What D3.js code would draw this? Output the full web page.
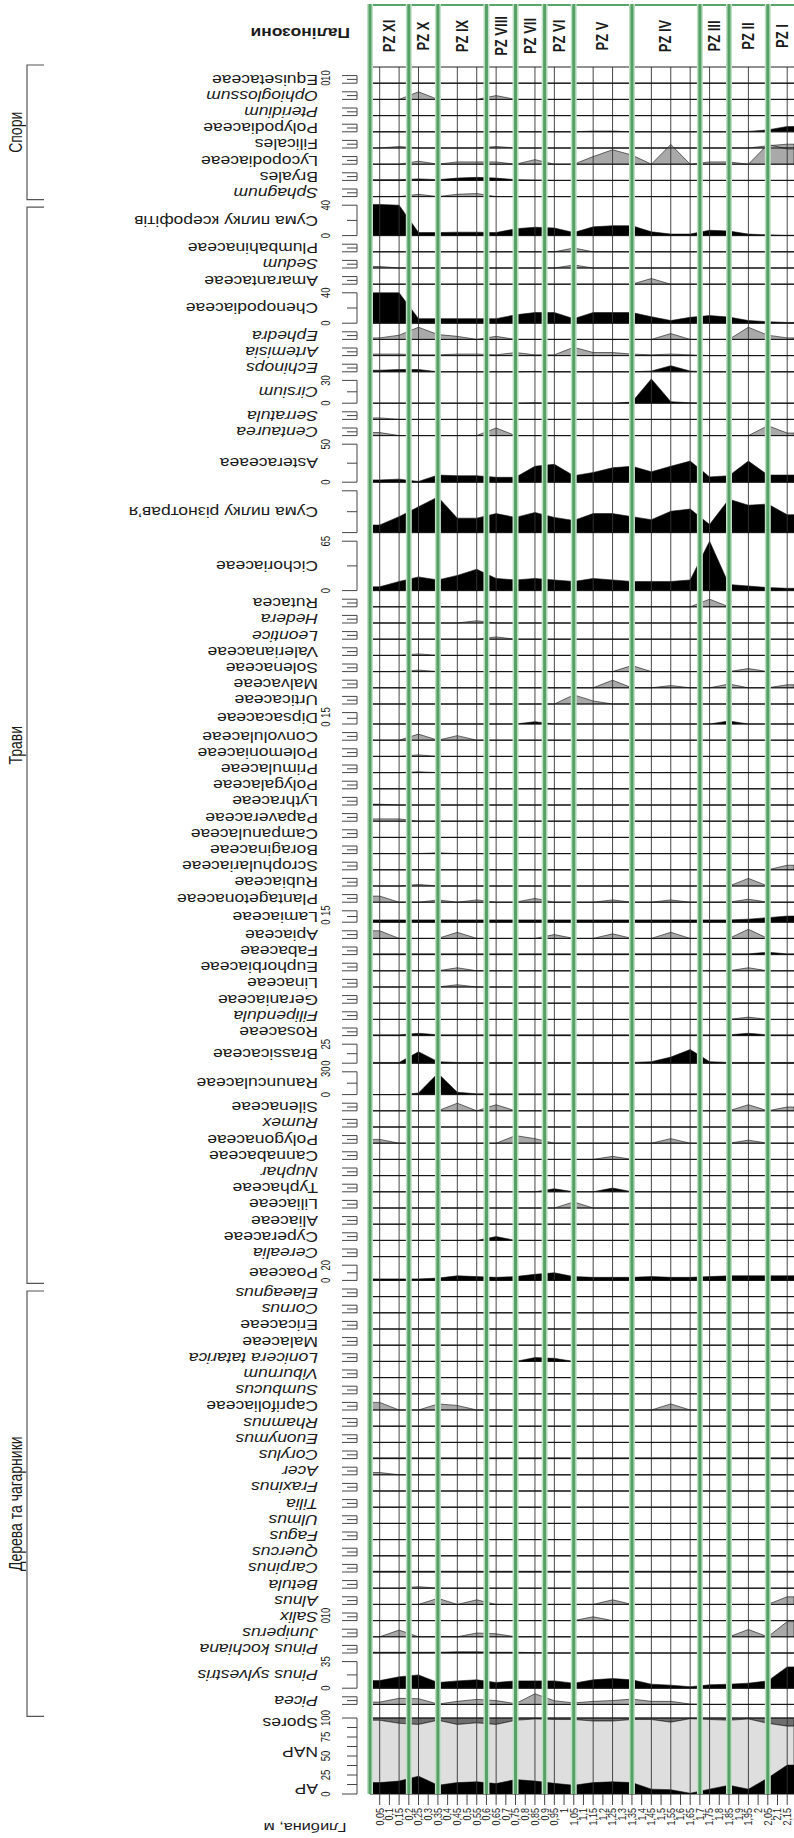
<!DOCTYPE html>
<html><head><meta charset="utf-8">
<script src="https://cdn.jsdelivr.net/npm/d3@7"></script>
<style>
body{margin:0;background:#fff}
svg{display:block}
text{font-family:"Liberation Sans",Arial,sans-serif;fill:#1a1a1a}
</style></head>
<body><svg id="c" width="794" height="1838"></svg>
<script>
// ---------------- DATA ----------------
const depths = [0.05,0.15,0.25,0.35,0.45,0.55,0.65,0.75,0.85,0.95,1.05,1.15,1.25,1.35,1.45,1.55,1.65,1.75,1.85,1.95,2.05,2.15];
const depthTicks = [0.05,0.1,0.15,0.2,0.25,0.3,0.35,0.4,0.45,0.5,0.55,0.6,0.65,0.7,0.75,0.8,0.85,0.9,0.95,1,1.05,1.1,1.15,1.2,1.25,1.3,1.35,1.4,1.45,1.5,1.55,1.6,1.65,1.7,1.75,1.8,1.85,1.9,1.95,2,2.05,2.1,2.15];
const zoneBreaks = [0,0.2,0.35,0.6,0.75,0.9,1.05,1.35,1.7,1.85,2.05,2.2];
const zoneNames = ["PZ XI","PZ X","PZ IX","PZ VIII","PZ VII","PZ VI","PZ V","PZ IV","PZ III","PZ II","PZ I"];
const groupNames = ["Спори","Трави","Дерева та чагарники"];

const sporeTaxa = ["Equisetaceae","Ophioglossum","Pteridium","Polypodiaceae","Filicales","Lycopodiaceae","Bryales","Sphagnum"];
const sporeRanges = [10,10,10,10,10,10,10,10];
const sporeValues = [
 [0,0,0,0,0,0,0,0,0,0,0,0,0,0,0,0,0,0,0,0,0,0],
 [0,0,10,0,0,0,5,0,0,0,0,0,0,0,0,0,0,0,0,0,0,0],
 [0,0,0,0,0,0,0,0,0,0,0,0,0,0,0,0,0,0,0,0,0,0],
 [0,0,0,0,0,0,0,0,0,0,0,1,1,0,0,0,0,0,0,0.5,2.5,7],
 [0,2,0,0,0,0,2,0,0,0,0,0,0,0,0,0,0,0,0,0,3,5],
 [0,0,4,0,3,3,3,0,6,0,0,10,19,12,0,26,0,3,3,0,26,20],
 [1,1,2,1,3,4,3,1,0.5,0,0,0,0,0,0,0,0,0,0,0,0,0],
 [0,0,3,0,3,4,0,0,0,0,0,0,0,0,0,0,0,0,0,0,0,0]
];

const herbTaxa = ["Сума пилку ксерофітів","Plumbahinaceae","Sedum","Amarantaceae","Chenopodiaceae","Ephedra","Artemisia","Echinops","Cirsium","Serratula","Centaurea","Asteraceaea","Сума пилку різнотрав’я","Cichoriaceae","Rutacea","Hedera","Leontice","Valerianaceae","Solenaceae","Malvaceae","Urticaceae","Dipsacaceae","Convolulaceae","Polemoniaceae","Primulaceae","Polygalaceae","Lythraceae","Papaveraceae","Campanulaceae","Boraginaceae","Scrophulariaceae","Rubiaceae","Plantagetonaceae","Lamiaceae","Apiaceae","Fabaceae","Euphorbiaceae","Linaceae","Geraniaceae","Filipendula","Rosaceae","Brassicaceae","Ranunculaceae","Silenaceae","Rumex","Polygonaceae","Cannabaceae","Nuphar","Typhaceae","Liliaceae","Aliaceae","Cyperaceae","Cerealia","Poaceae"];
const herbRanges = [40,10,10,10,40,10,10,10,30,10,10,50,55,65,
 10,10,10,10,10,10,10,15,10,10,10,10,10,10,10,10,10,10,10,15,10,10,10,10,10,10,10,
 25,30,10,10,10,10,10,10,10,10,10,10,20];
const herbValues = [
 [41,40,4,4,4.5,4.5,4,9,11,10,4,11.5,13,13,5,2,2,7,6,2,1,0.5],
 [0,0,0,0,0,0,0,0,0,0,5,0,0,0,0,0,0,0,0,0,0,0],
 [2,0,0,0,0,0,0,0,0,0,4,0,0,0,0,0,0,0,0,0,0,0],
 [0,0,0,0,0,0,0,0,0,0,0,0,0,0,7.5,0,0,0,0,0,0,0],
 [40,40,6,6,6,6,6,11,14,14,6,14,14,14,8.5,3.5,7.7,10,8,3.5,2,1],
 [2,5.5,16,6.4,4,0,4,0,0,0,0,0,0,0,0,7.7,0,0,0,16,5.5,2],
 [2,2,1,1,2,2,1,4,1,1,11,4,4,2,1,2,1,0,0,0,0,0],
 [2,3,3,0,0,0,0,0,0.5,0,0,0,0,0,1,8,1,0,0,0,0,0],
 [0,0,0,0,0,0,0,0,0.5,0,0,0,0,1.5,32,2,0.5,0,0,0,0,0],
 [2,0,0,0,0,0,0,0,0,0,0,0,0,0,0,0,0,0,0,0,0,0],
 [4,0,0,0,0,0,10,0,0,0,0,0,0,0,0,0,0,0,0,0,13,3.4],
 [3,4,1,9.4,8.5,8.5,6.4,6.4,21,23.5,8.5,12.8,19,21,13.7,21,27.8,7,8.5,27.8,9.4,9.4],
 [10,21,34,47,19,19,25,20,26.5,20,16,25,25,21,17,28,31,10.7,44,36,37.6,23.5],
 [5,12,18,14,20,28,16,14,16,14,12,16,14,12,12,12,14,65,8,6,4,3],
 [0,0,0,0,0,0,0,0,0,0,0,0,0,0,0,0,0,10,0,0,0,0],
 [0,0,0,0,0,3,0,0,0,0,0,0,0,0,0,0,0,0,0,0,0,0],
 [0,0,0,0,0,0,3,0,0,0,0,0,0,0,0,0,0,0,0,0,0,0],
 [0,0,2,0,0,0,0,0,0,0,0,0,0,0,0,0,0,0,0,0,0,0],
 [0,0,2,0,0,0,0,0,0,0,0,0,0,8,0,0,0,0,0,4,0,0],
 [0,0,0,0,0,0,0,0,0,0,0,0,10,0,0,3,0,0,5,0,0,4],
 [0,0,0,0,0,0,0,0,0,0,12,4,0,0,0,0,0,0,0,0,0,0],
 [0,0,0,0,0,0,0,0,3,0,0,0,0,0,0,0,0,0,4,0,0,0],
 [0,0,8,0,6,0,0,0,0,0,0,0,0,0,0,0,0,0,0,0,0,0],
 [0,0,2,0,0,0,0,0,0,0,0,0,0,0,0,0,0,0,0,0,0,0],
 [0,0,1,0,0,0,0,0,0,0,0,0,0,0,0,0,0,0,0,0,0,0],
 [0,0,0,0,0,0,0,0,0,0,0,0,0,0,0,0,0,0,0,0,0,0],
 [1,0,0,0,0,0,0,0,0,0,0,0,0,0,0,0,0,0,0,0,0,0],
 [3,3,0,0,0,0,0,0,0,0,0,0,0,0,0,0,0,0,0,0,0,0],
 [0,0,0,0,0,0,0,0,0,0,0,0,0,0,0,0,0,0,0,0,0,0],
 [0,0,0,1,0,0,0,0,0,0,0,0,0,0,0,0,0,0,0,0,0,0],
 [0,0,0,0,0,0,0,0,0,0,0,0,0,0,0,0,0,0,0,0,0,6],
 [0,0,2,0,0,0,0,0,0,0,0,0,0,0,0,0,0,0,0,10,0,0],
 [8,0,0,3,0,3,0,0,5,0,0,0,3,0,0,3,0,0,0,4,0,0],
 [3,3,3,3,3,3,3,3,3,3,3,3,3,3,3,3,3,3,3,4,6,8],
 [10,0,0,0,8,0,0,0,0,5,0,0,6,0,0,8,0,0,0,12,0,0],
 [1,1,1,1,1,1,1,1,1,1,1,1,1,1,1,1,1,1,1,1,3,1],
 [0,0,0,0,4,0,0,0,0,0,0,0,0,0,0,0,0,0,0,4,0,0],
 [0,0,0,0,3,0,0,0,0,0,0,0,0,0,0,0,0,0,0,0,0,0],
 [0,0,0,0,0,0,0,0,0,0,0,0,0,0,0,0,0,0,0,0,0,0],
 [0,0,0,0,0,0,0,0,0,0,0,0,0,0,0,0,0,0,0,3,0,0],
 [1,1,3,1,1,1,1,1,1,1,1,1,1,1,1,1,1,1,1,3,1,1],
 [1,1,15,2,1,1,1,1,1,1,1,1,1,1,2,8,18,2,1,1,1,1],
 [0,0,2,28,3,1,1,1,1,1,1,1,1,1,1,1,1,1,1,1,1,1],
 [0,0,0,0,10,0,8,0,0,0,0,0,0,0,0,0,0,0,0,8,0,5],
 [0,0,0,0,0,0,0,0,0,0,0,0,0,0,0,0,0,0,0,0,0,0],
 [5,0,0,0,0,0,0,10,6,0,0,0,0,0,0,6,0,0,0,4,0,0],
 [0,0,0,0,0,0,0,0,0,0,0,0,4,0,0,0,0,0,0,0,0,0],
 [0,0,0,0,0,0,0,0,0,0,0,0,0,0,0,0,0,0,0,0,0,0],
 [0,0,0,0,0,0,0,0,0,4,0,0,5,0,0,0,0,0,0,0,0,0],
 [0,0,0,0,0,0,0,0,0,0,8,0,0,0,0,0,0,0,0,0,0,0],
 [0,0,0,0,0,0,0,0,0,0,0,0,0,0,0,0,0,0,0,0,0,0],
 [0,0,0,0,0,0,5,0,0,0,0,0,0,0,0,0,0,0,0,0,0,0],
 [0,0,0,0,0,0,0,0,0,0,0,0,0,0,0,0,0,0,0,0,0,0],
 [2,2,2,3,6,5,4,5,8,10,5,4,4,4,5,4,4,5,6,6,6,6]
];

const treeTaxa = ["Elaeagnus","Cornus","Ericaceae","Malaceae","Lonicera tatarica","Viburnum","Sumbucus","Caprifoliaceae","Rhamnus","Euonymus","Corylus","Acer","Fraxinus","Tilia","Ulmus","Fagus","Quercus","Carpinus","Betula","Alnus","Salix","Juniperus","Pinus kochiana","Pinus sylvestris","Picea"];
const treeRanges = [10,10,10,10,10,10,10,10,10,10,10,10,10,10,10,10,10,10,10,10,10,10,10,35,10];
const treeValues = [
 [0,0,0,0,0,0,0,0,0,0,0,0,0,0,0,0,0,0,0,0,0,0],
 [0,0,0,0,0,0,0,0,0,0,0,0,0,0,0,0,0,0,0,0,0,0],
 [0,0,0,0,0,0,0,0,0,0,0,0,0,0,0,0,0,0,0,0,0,0],
 [0,0,0,0,0,0,0,0,0,0,0,0,0,0,0,0,0,0,0,0,0,0],
 [0,0,0,0,0,0,0,0,5,4,0,0,0,0,0,0,0,0,0,0,0,0],
 [0,0,0,0,0,0,0,0,0,0,0,0,0,0,0,0,0,0,0,0,0,0],
 [0,0,0,0,0,0,0,0,0,0,0,0,0,0,0,0,0,0,0,0,0,0],
 [10,0,0,8,6,0,0,0,0,0,0,0,0,0,0,8,0,0,0,0,0,0],
 [0,0,0,0,0,0,0,0,0,0,0,0,0,0,0,0,0,0,0,0,0,0],
 [0,0,0,0,0,0,0,0,0,0,0,0,0,0,0,0,0,0,0,0,0,0],
 [1,1,1,1,1,1,1,1,1,1,1,1,1,1,1,1,1,1,1,1,1,1],
 [3,0,0,0,0,0,0,0,0,0,0,0,0,0,0,0,0,0,0,0,0,0],
 [0,0,0,0,0,0,0,0,0,0,0,0,0,0,0,0,0,0,0,0,0,0],
 [0,0,0,0,0,0,0,0,0,0,0,0,0,0,0,0,0,0,0,0,0,0],
 [0,0,0,0,0,0,0,0,0,0,0,0,0,0,0,0,0,0,0,0,0,0],
 [0,0,0,0,0,0,0,0,0,0,0,0,0,0,0,0,0,0,0,0,0,0],
 [0,0,0,0,0,0,0,0,0,0,0,0,0,0,0,0,0,0,0,0,0,0],
 [1,1,1,1,1,1,1,1,1,1,1,1,1,1,1,1,1,1,1,1,1,1],
 [0,0,2,0,0,0,0,0,0,0,0,0,0,0,0,0,0,0,0,0,0,0],
 [0,0,0,8,0,6,0,0,0,0,0,0,6,0,0,0,0,0,0,0,0,10],
 [0,0,0,0,0,0,0,0,0,0,0,5,0,0,0,0,0,0,0,0,0,0],
 [0,8.8,0,0,0,5,4,0,0,0,0,0,0,0,0,0,0,0,0,9.6,0,20],
 [1,1,1,1,1.5,1.5,1,1,0.5,0,0,0,0,0,0,0,0,0,0,0,0,0],
 [10,15,17.5,7.5,9.6,11,7.5,9.6,9.6,9.6,6.6,11,12.7,11,5.3,4,2,4.4,5.3,6.6,9.6,28],
 [3,8,7.5,0.5,4,6.6,5,1,14,4.8,2,4,5,7,4,4,0.5,0,0,0,0,0]
];

const apValues     = [15,17,23.5,11.5,15,16,13.7,19,17,14,11.5,15,16,15,6.4,5.6,1,6.4,11.5,6.4,21,38];
const napValues    = [82,76,68,85.5,76.5,77.6,77.8,78,81.7,84,86.5,81,80,83,91.6,88.9,98,91.6,85.5,92.3,72,51.3];
const sporesValues = [3,7,8.5,3,8.5,6.4,8.5,3,1.3,2,2,4,4,2,2,5.5,1,2,3,1.3,7,10.7];

// ---------------- STYLE CONFIG ----------------
const solidTaxa = new Set(["Polypodiaceae","Bryales","Сума пилку ксерофітів","Chenopodiaceae","Echinops","Cirsium","Asteraceaea","Сума пилку різнотрав’я","Cichoriaceae","Dipsacaceae","Primulaceae","Lythraceae","Boraginaceae","Lamiaceae","Fabaceae","Rosaceae","Brassicaceae","Ranunculaceae","Typhaceae","Cyperaceae","Poaceae","Lonicera tatarica","Corylus","Carpinus","Pinus kochiana","Pinus sylvestris"]);
const italicTaxa = new Set(["Ophioglossum","Pteridium","Sphagnum","Sedum","Ephedra","Artemisia","Echinops","Cirsium","Serratula","Centaurea","Hedera","Leontice","Filipendula","Rumex","Nuphar","Cerealia","Elaeagnus","Cornus","Lonicera tatarica","Viburnum","Sumbucus","Rhamnus","Euonymus","Corylus","Acer","Fraxinus","Tilia","Ulmus","Fagus","Quercus","Carpinus","Betula","Alnus","Salix","Juniperus","Pinus kochiana","Pinus sylvestris","Picea"]);
const labelledAxes = new Set(["Equisetaceae","Сума пилку ксерофітів","Chenopodiaceae","Cirsium","Asteraceaea","Cichoriaceae","Dipsacaceae","Lamiaceae","Brassicaceae","Ranunculaceae","Poaceae","Salix","Pinus sylvestris"]);

// ---------------- LAYOUT ----------------
const K = 0.76, GAP = 8.6, TOP = 67, SX = 1.25;
const PX0 = 370, PX1 = 794;
const svg = d3.select("#c");
const x = d3.scaleLinear().domain([0, 2.185]).range([PX0, PX1]);

const rows = [];
function addGroup(g, names, ranges, vals){
  names.forEach((n,i)=>rows.push({name:n, range:ranges[i], vals:vals[i], group:g}));
}
addGroup(0, sporeTaxa, sporeRanges, sporeValues);
addGroup(1, herbTaxa, herbRanges, herbValues);
addGroup(2, treeTaxa, treeRanges, treeValues);

let cur = TOP;
rows.forEach(r=>{
  r.top = cur + GAP; r.base = r.top + r.range*K; cur = r.base;
  r.y = d3.scaleLinear().domain([0, r.range]).range([r.base, r.top]);
});
const apTop = cur + GAP + 5, apBase = apTop + 100*K;
const yAP = d3.scaleLinear().domain([0,100]).range([apBase, apTop]);

const tf = (px,py,rot)=>`translate(${px},${py}) scale(${SX},1) rotate(${rot})`;

svg.append("defs").append("clipPath").attr("id","plotclip")
  .append("rect").attr("x",PX0).attr("y",0).attr("width",PX1-PX0).attr("height",1838);

function ext(vals){
  const pts = depths.map((d,i)=>({d, v:vals[i]}));
  return [{d:x.domain()[0], v:vals[0]}, ...pts, {d:x.domain()[1], v:vals[vals.length-1]}];
}

// fills
const gFill = svg.append("g").attr("clip-path","url(#plotclip)");
rows.forEach(r=>{
  const area = d3.area().x(p=>x(p.d)).y0(r.base).y1(p=>r.y(p.v));
  const solid = solidTaxa.has(r.name);
  gFill.append("path").datum(ext(r.vals)).attr("d",area)
    .attr("fill", solid ? "#000" : "#a9a9a9")
    .attr("stroke","#111").attr("stroke-width",0.6);
});
// AP / NAP / Spores stack
const stack = depths.map((d,i)=>({d, ap:apValues[i], nap:napValues[i], sp:sporesValues[i]}));
const stackExt = [{...stack[0], d:x.domain()[0]}, ...stack, {...stack[stack.length-1], d:x.domain()[1]}];
gFill.append("path").datum(stackExt)
  .attr("d", d3.area().x(p=>x(p.d)).y0(p=>yAP(p.ap+p.nap)).y1(p=>yAP(p.ap+p.nap+p.sp)))
  .attr("fill","#6e6e6e").attr("stroke","#111").attr("stroke-width",0.6);
gFill.append("path").datum(stackExt)
  .attr("d", d3.area().x(p=>x(p.d)).y0(p=>yAP(p.ap)).y1(p=>yAP(p.ap+p.nap)))
  .attr("fill","#dedede").attr("stroke","#111").attr("stroke-width",0.6);
gFill.append("path").datum(stackExt)
  .attr("d", d3.area().x(p=>x(p.d)).y0(apBase).y1(p=>yAP(p.ap)))
  .attr("fill","#000");

// vertical sample grid
const gGrid = svg.append("g");
depths.forEach(d=>{
  gGrid.append("line").attr("x1",x(d)).attr("x2",x(d)).attr("y1",TOP).attr("y2",apBase)
    .attr("stroke","#333").attr("stroke-width",0.9);
});
// row baselines
rows.forEach(r=>{
  gGrid.append("line").attr("x1",PX0).attr("x2",PX1).attr("y1",r.base).attr("y2",r.base)
    .attr("stroke","#111").attr("stroke-width",1);
});
gGrid.append("line").attr("x1",PX0).attr("x2",PX1).attr("y1",apTop).attr("y2",apTop).attr("stroke","#111").attr("stroke-width",1);
gGrid.append("line").attr("x1",PX0).attr("x2",PX1).attr("y1",apBase).attr("y2",apBase).attr("stroke","#111").attr("stroke-width",1);

// header
const gHead = svg.append("g");
gHead.append("line").attr("x1",PX0).attr("x2",PX1).attr("y1",5).attr("y2",5).attr("stroke","#5aa66a").attr("stroke-width",2);
gHead.append("line").attr("x1",PX0).attr("x2",PX1).attr("y1",TOP).attr("y2",TOP).attr("stroke","#222").attr("stroke-width",1);
zoneNames.forEach((z,i)=>{
  const cx = (x(zoneBreaks[i]) + Math.min(x(zoneBreaks[i+1]), 798))/2;
  gHead.append("text").attr("transform",tf(cx,36,-90))
    .attr("text-anchor","middle").attr("dominant-baseline","central")
    .attr("font-size",13).attr("font-weight","bold").text(z);
});
// green zone lines
zoneBreaks.slice(0,-1).forEach(b=>{
  gHead.append("line").attr("x1",x(b)).attr("x2",x(b)).attr("y1",4).attr("y2",apBase)
    .attr("stroke","#bfe0c4").attr("stroke-width",6);
  gHead.append("line").attr("x1",x(b)).attr("x2",x(b)).attr("y1",4).attr("y2",apBase)
    .attr("stroke","#55a064").attr("stroke-width",3);
});
gHead.append("text").attr("transform",tf(350,33,180))
  .attr("text-anchor","start").attr("dominant-baseline","central")
  .attr("font-size",14).attr("font-weight","bold").text("Палінозони");

// row axes & labels
const AXX = 357;
const gAx = svg.append("g").attr("stroke","#444").attr("stroke-width",1);
const gLab = svg.append("g");
function drawAxis(ys, ticks, labels, labelVals){
  gAx.append("line").attr("x1",AXX).attr("x2",AXX).attr("y1",ys(ticks[0])).attr("y2",ys(ticks[ticks.length-1]));
  ticks.forEach((t,i)=>{
    const end = (i===0 || i===ticks.length-1);
    gAx.append("line").attr("x1",AXX).attr("x2",AXX-(end?15:10)).attr("y1",ys(t)).attr("y2",ys(t));
  });
  if(labels){
    labelVals.forEach(v=>{
      gLab.append("text").attr("transform",tf(326,ys(v),-90))
        .attr("text-anchor","middle").attr("dominant-baseline","central")
        .attr("font-size",9.5).attr("fill","#333").text(v);
    });
  }
}
rows.forEach(r=>{
  drawAxis(r.y, [0, r.range/2, r.range], labelledAxes.has(r.name), [0, r.range]);
  gLab.append("text").attr("transform",tf(318,(r.base+r.top)/2,180))
    .attr("text-anchor","start").attr("dominant-baseline","central")
    .attr("font-size",14).attr("font-style", italicTaxa.has(r.name)?"italic":"normal")
    .text(r.name);
});
drawAxis(yAP, [0,12.5,25,37.5,50,62.5,75,87.5,100], true, [0,25,50,75,100]);
[["AP",7],["NAP",55],["Spores",93]].forEach(([t,v])=>{
  gLab.append("text").attr("transform",tf(318,yAP(v),180))
    .attr("text-anchor","start").attr("dominant-baseline","central")
    .attr("font-size",14).text(t);
});

// group brackets
const gGrp = svg.append("g");
groupNames.forEach((g,gi)=>{
  const rs = rows.filter(r=>r.group===gi);
  const y0 = gi===0 ? 65 : rs[0].top + 2;
  const y1 = gi===2 ? rs[rs.length-1].base + 12 : rs[rs.length-1].base + 3;
  gGrp.append("path").attr("d",`M44,${y0}H27V${y1}H44`).attr("fill","none")
    .attr("stroke","#555").attr("stroke-width",1.2);
  gGrp.append("text").attr("transform",tf(16,(y0+y1)/2,-90))
    .attr("text-anchor","middle").attr("dominant-baseline","central")
    .attr("font-size",14).text(g);
});

// depth axis
const gD = svg.append("g");
depthTicks.forEach(d=>{
  gD.append("line").attr("x1",x(d)).attr("x2",x(d)).attr("y1",apBase).attr("y2",apBase+11)
    .attr("stroke","#444").attr("stroke-width",1);
  gD.append("text").attr("transform",tf(x(d),apBase+14,-90))
    .attr("text-anchor","end").attr("dominant-baseline","central")
    .attr("font-size",9).attr("fill","#444").text(String(d).replace(".",","));
});
gD.append("text").attr("transform",tf(305,1827,180))
  .attr("text-anchor","middle").attr("dominant-baseline","central")
  .attr("font-size",13).text("Глибина, м");
</script></body></html>
